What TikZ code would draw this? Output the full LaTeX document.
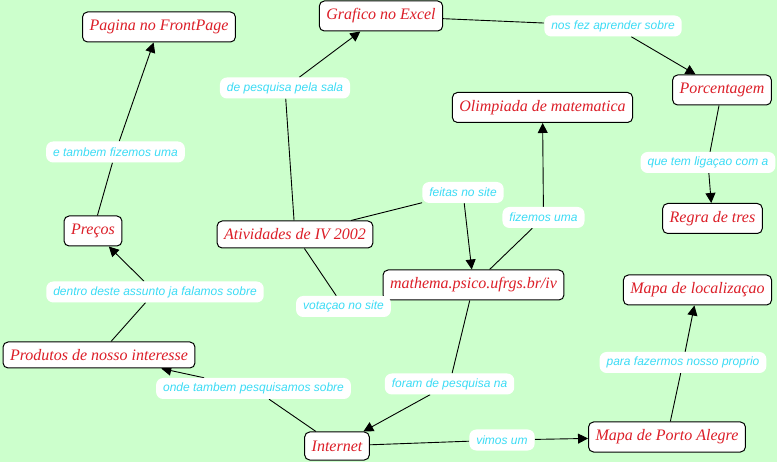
\documentclass[tikz,border=0pt]{standalone}
\usepackage{fontspec}
\setmainfont{Liberation Serif}
\newfontfamily\labelfont{Liberation Sans}
\usetikzlibrary{arrows.meta,backgrounds}
\definecolor{bggreen}{RGB}{204,255,204}
\definecolor{conceptred}{RGB}{220,30,40}
\definecolor{linkcyan}{RGB}{60,220,245}
\begin{document}
\begin{tikzpicture}[x=1pt,y=-1pt,
 concept/.style={draw=black,line width=1pt,fill=white,rounded corners=5pt,text=conceptred,font=\fontsize{16}{19}\selectfont\itshape,inner xsep=7pt,inner ysep=2pt,minimum height=30pt},
 linklabel/.style={fill=white,rounded corners=7pt,text=linkcyan,font=\labelfont\itshape\fontsize{12}{14}\selectfont,inner xsep=7pt,inner ysep=2pt,minimum height=21pt},
 conn/.style={draw=black,line width=0.9pt},
 arr/.style={conn,-{Triangle[length=10pt,width=10pt]}}]
\useasboundingbox (0,0) rectangle (777,462);
% concepts
\node[concept] (pagina) at (159,27) {Pagina no FrontPage};
\node[concept] (grafico) at (381,16) {Grafico no Excel};
\node[concept] (porc) at (722,90) {Porcentagem};
\node[concept] (olimp) at (542.5,107.5) {Olimpiada de matematica};
\node[concept] (regra) at (712.5,218.5) {Regra de tres};
\node[concept] (precos) at (93,231) {Preços};
\node[concept,minimum height=27pt] (ativ) at (295,234.5) {Atividades de IV 2002};
\node[concept] (mathema) at (473.5,285) {mathema.psico.ufrgs.br/iv};
\node[concept] (mapaloc) at (697.5,290) {Mapa de localizaçao};
\node[concept,minimum height=26pt] (produtos) at (99,355) {Produtos de nosso interesse};
\node[concept,minimum height=28pt] (internet) at (337,446) {Internet};
\node[concept] (mapapoa) at (667,437) {Mapa de Porto Alegre};
% link labels
\node[linklabel] (l1) at (285,88) {de pesquisa pela sala};
\node[linklabel] (l2) at (115.5,152) {e tambem fizemos uma};
\node[linklabel] (l3) at (613,26) {nos fez aprender sobre};
\node[linklabel] (l4) at (708,162.5) {que tem ligaçao com a};
\node[linklabel] (l5) at (463,192.5) {feitas no site};
\node[linklabel] (l6) at (543.5,217.5) {fizemos uma};
\node[linklabel] (l7) at (155,292) {dentro deste assunto ja falamos sobre};
\node[linklabel] (l8) at (343.5,306.5) {votaçao no site};
\node[linklabel] (l9) at (253.5,388.5) {onde tambem pesquisamos sobre};
\node[linklabel] (l10) at (449.5,384) {foram de pesquisa na};
\node[linklabel] (l11) at (502,440) {vimos um};
\node[linklabel] (l12) at (683,362.5) {para fazermos nosso proprio};
\begin{pgfonlayer}{background}
\fill[bggreen] (0,0) rectangle (777,462);
\draw[conn] (ativ) -- (l1); \draw[arr] (l1) -- (grafico);
\draw[conn] (grafico) -- (l3); \draw[arr] (l3) -- (porc);
\draw[conn] (porc) -- (l4); \draw[arr] (l4) -- (regra);
\draw[conn] (ativ) -- (l5); \draw[arr] (l5) -- (mathema);
\draw[conn] (mathema) -- (l6); \draw[arr] (l6) -- (olimp);
\draw[conn] (ativ) -- (l8); \draw[conn] (l8) -- (mathema);
\draw[conn] (mathema) -- (l10); \draw[arr] (l10) -- (internet);
\draw[conn] (internet) -- (l9); \draw[arr] (l9) -- (produtos);
\draw[conn] (produtos) -- (l7); \draw[arr] (l7) -- (precos);
\draw[conn] (precos) -- (l2); \draw[arr] (l2) -- (pagina);
\draw[conn] (internet) -- (l11); \draw[arr] (l11) -- (mapapoa);
\draw[conn] (mapapoa) -- (l12); \draw[arr] (l12) -- (mapaloc);
\end{pgfonlayer}
\end{tikzpicture}
\end{document}
